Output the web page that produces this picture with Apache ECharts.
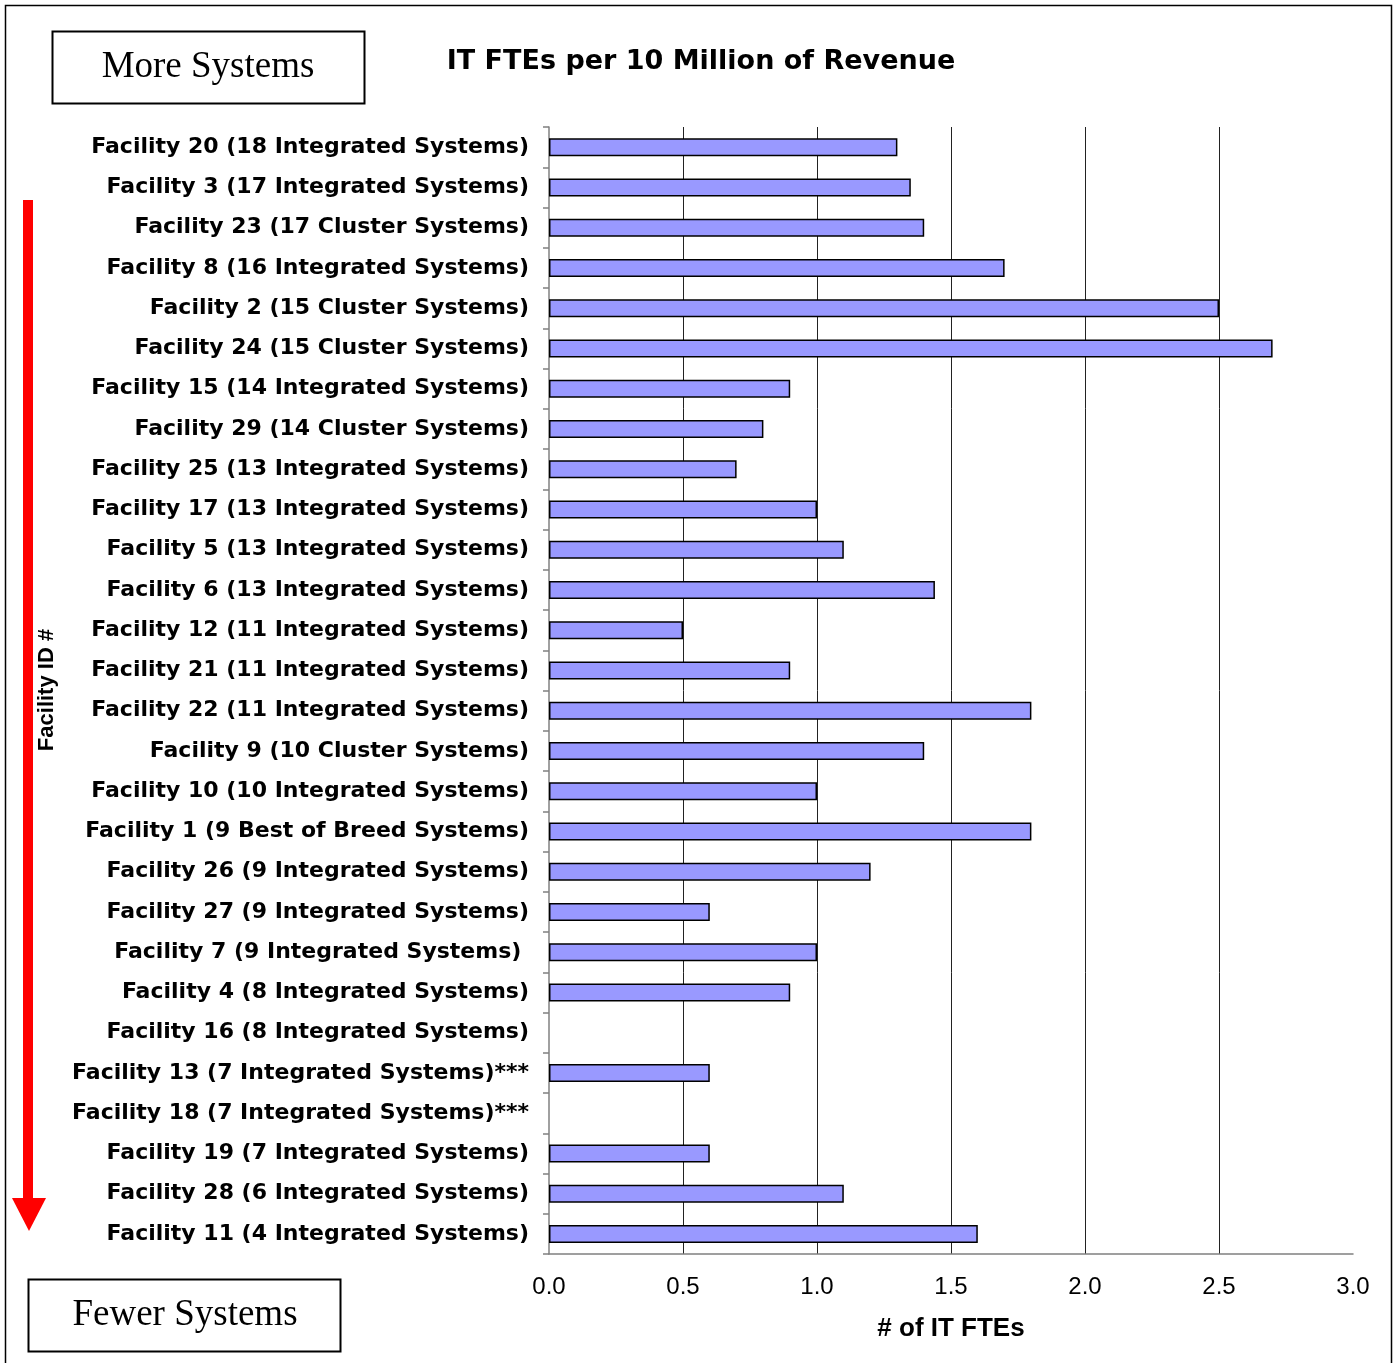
<!DOCTYPE html>
<html>
<head>
<meta charset="utf-8">
<script src="https://cdn.jsdelivr.net/npm/echarts@6/dist/echarts.min.js"></script>
<style>
html,body{margin:0;padding:0;background:#fff;}
#chart{width:1395px;height:1363px;}
</style>
</head>
<body>
<div id="chart"></div>
<script>
var categories = [
  "Facility 20 (18 Integrated Systems)",
  "Facility 3 (17 Integrated Systems)",
  "Facility 23 (17 Cluster Systems)",
  "Facility 8 (16 Integrated Systems)",
  "Facility 2 (15 Cluster Systems)",
  "Facility 24 (15 Cluster Systems)",
  "Facility 15 (14 Integrated Systems)",
  "Facility 29 (14 Cluster Systems)",
  "Facility 25 (13 Integrated Systems)",
  "Facility 17 (13 Integrated Systems)",
  "Facility 5 (13 Integrated Systems)",
  "Facility 6 (13 Integrated Systems)",
  "Facility 12 (11 Integrated Systems)",
  "Facility 21 (11 Integrated Systems)",
  "Facility 22 (11 Integrated Systems)",
  "Facility 9 (10 Cluster Systems)",
  "Facility 10 (10 Integrated Systems)",
  "Facility 1 (9 Best of Breed Systems)",
  "Facility 26 (9 Integrated Systems)",
  "Facility 27 (9 Integrated Systems)",
  "Facility 7 (9 Integrated Systems) ",
  "Facility 4 (8 Integrated Systems)",
  "Facility 16 (8 Integrated Systems)",
  "Facility 13 (7 Integrated Systems)***",
  "Facility 18 (7 Integrated Systems)***",
  "Facility 19 (7 Integrated Systems)",
  "Facility 28 (6 Integrated Systems)",
  "Facility 11 (4 Integrated Systems)"
];
var fteValues = [1.30, 1.35, 1.40, 1.70, 2.50, 2.70, 0.90, 0.80, 0.70, 1.00, 1.10, 1.44, 0.50, 0.90, 1.80, 1.40, 1.00, 1.80, 1.20, 0.60, 1.00, 0.90, null, 0.60, null, 0.60, 1.10, 1.60];
var xTickLabels = ["0.0", "0.5", "1.0", "1.5", "2.0", "2.5", "3.0"];

var chart = echarts.init(document.getElementById('chart'), null, {renderer: 'canvas'});
chart.setOption({
  animation: false,
  backgroundColor: '#ffffff',
  title: {
    text: 'IT FTEs per 10 Million of Revenue',
    left: 696, top: 57, textAlign: 'center', textVerticalAlign: 'middle',
    textStyle: {fontFamily: 'DejaVu Sans', fontWeight: 'bold', fontSize: 27, color: '#000'}
  },
  grid: {left: 549, right: 42, top: 127, bottom: 109, containLabel: false},
  xAxis: {
    type: 'value', min: 0, max: 3, interval: 0.5,
    name: '# of IT FTEs', nameLocation: 'middle', nameGap: 62,
    nameTextStyle: {fontFamily: 'Liberation Sans', fontWeight: 'bold', fontSize: 26, color: '#000'},
    axisLine: {show: true, lineStyle: {color: '#808080', width: 1.5}},
    axisTick: {show: false},
    axisLabel: {
      margin: 21, fontFamily: 'Liberation Sans', fontSize: 24, color: '#000',
      formatter: function (v) { return xTickLabels[Math.round(v / 0.5)]; }
    },
    splitLine: {show: true, showMinLine: false, showMaxLine: false, lineStyle: {color: '#222', width: 1}}
  },
  yAxis: {
    type: 'category', data: categories, inverse: true,
    axisLine: {show: true, lineStyle: {color: '#808080', width: 1.5}},
    axisTick: {show: true, inside: false, length: 6, lineStyle: {color: '#808080', width: 1.5}},
    axisLabel: {margin: 20, padding: [7, 0, 0, 0], fontFamily: 'DejaVu Sans', fontWeight: 'bold', fontSize: 22, color: '#000'},
    splitLine: {show: false}
  },
  series: [{
    type: 'bar', data: fteValues, barWidth: 18,
    itemStyle: {color: '#9999FF', borderColor: '#000', borderWidth: 1.5}
  }],
  graphic: [
    {type: 'rect', shape: {x: 5.5, y: 5.5, width: 1386, height: 1380}, style: {fill: 'none', stroke: '#000', lineWidth: 1.5}, z: 100},
    {type: 'rect', shape: {x: 52.5, y: 31.5, width: 312, height: 72}, style: {fill: '#fff', stroke: '#000', lineWidth: 2}},
    {type: 'text', x: 208, y: 67, style: {text: 'More Systems', font: '37px "Liberation Serif"', fill: '#000', textAlign: 'center', textVerticalAlign: 'middle'}},
    {type: 'rect', shape: {x: 28.5, y: 1279.5, width: 312, height: 72}, style: {fill: '#fff', stroke: '#000', lineWidth: 2}},
    {type: 'text', x: 185, y: 1315, style: {text: 'Fewer Systems', font: '37px "Liberation Serif"', fill: '#000', textAlign: 'center', textVerticalAlign: 'middle'}},
    {type: 'rect', shape: {x: 23, y: 200, width: 10, height: 999}, style: {fill: '#FF0000'}},
    {type: 'polygon', shape: {points: [[12, 1198], [46, 1198], [29, 1231]]}, style: {fill: '#FF0000'}},
    {type: 'text', x: 47, y: 690, rotation: Math.PI / 2, style: {text: 'Facility ID #', font: 'bold 22px "Liberation Sans"', fill: '#000', textAlign: 'center', textVerticalAlign: 'middle'}}
  ]
});
</script>
</body>
</html>
